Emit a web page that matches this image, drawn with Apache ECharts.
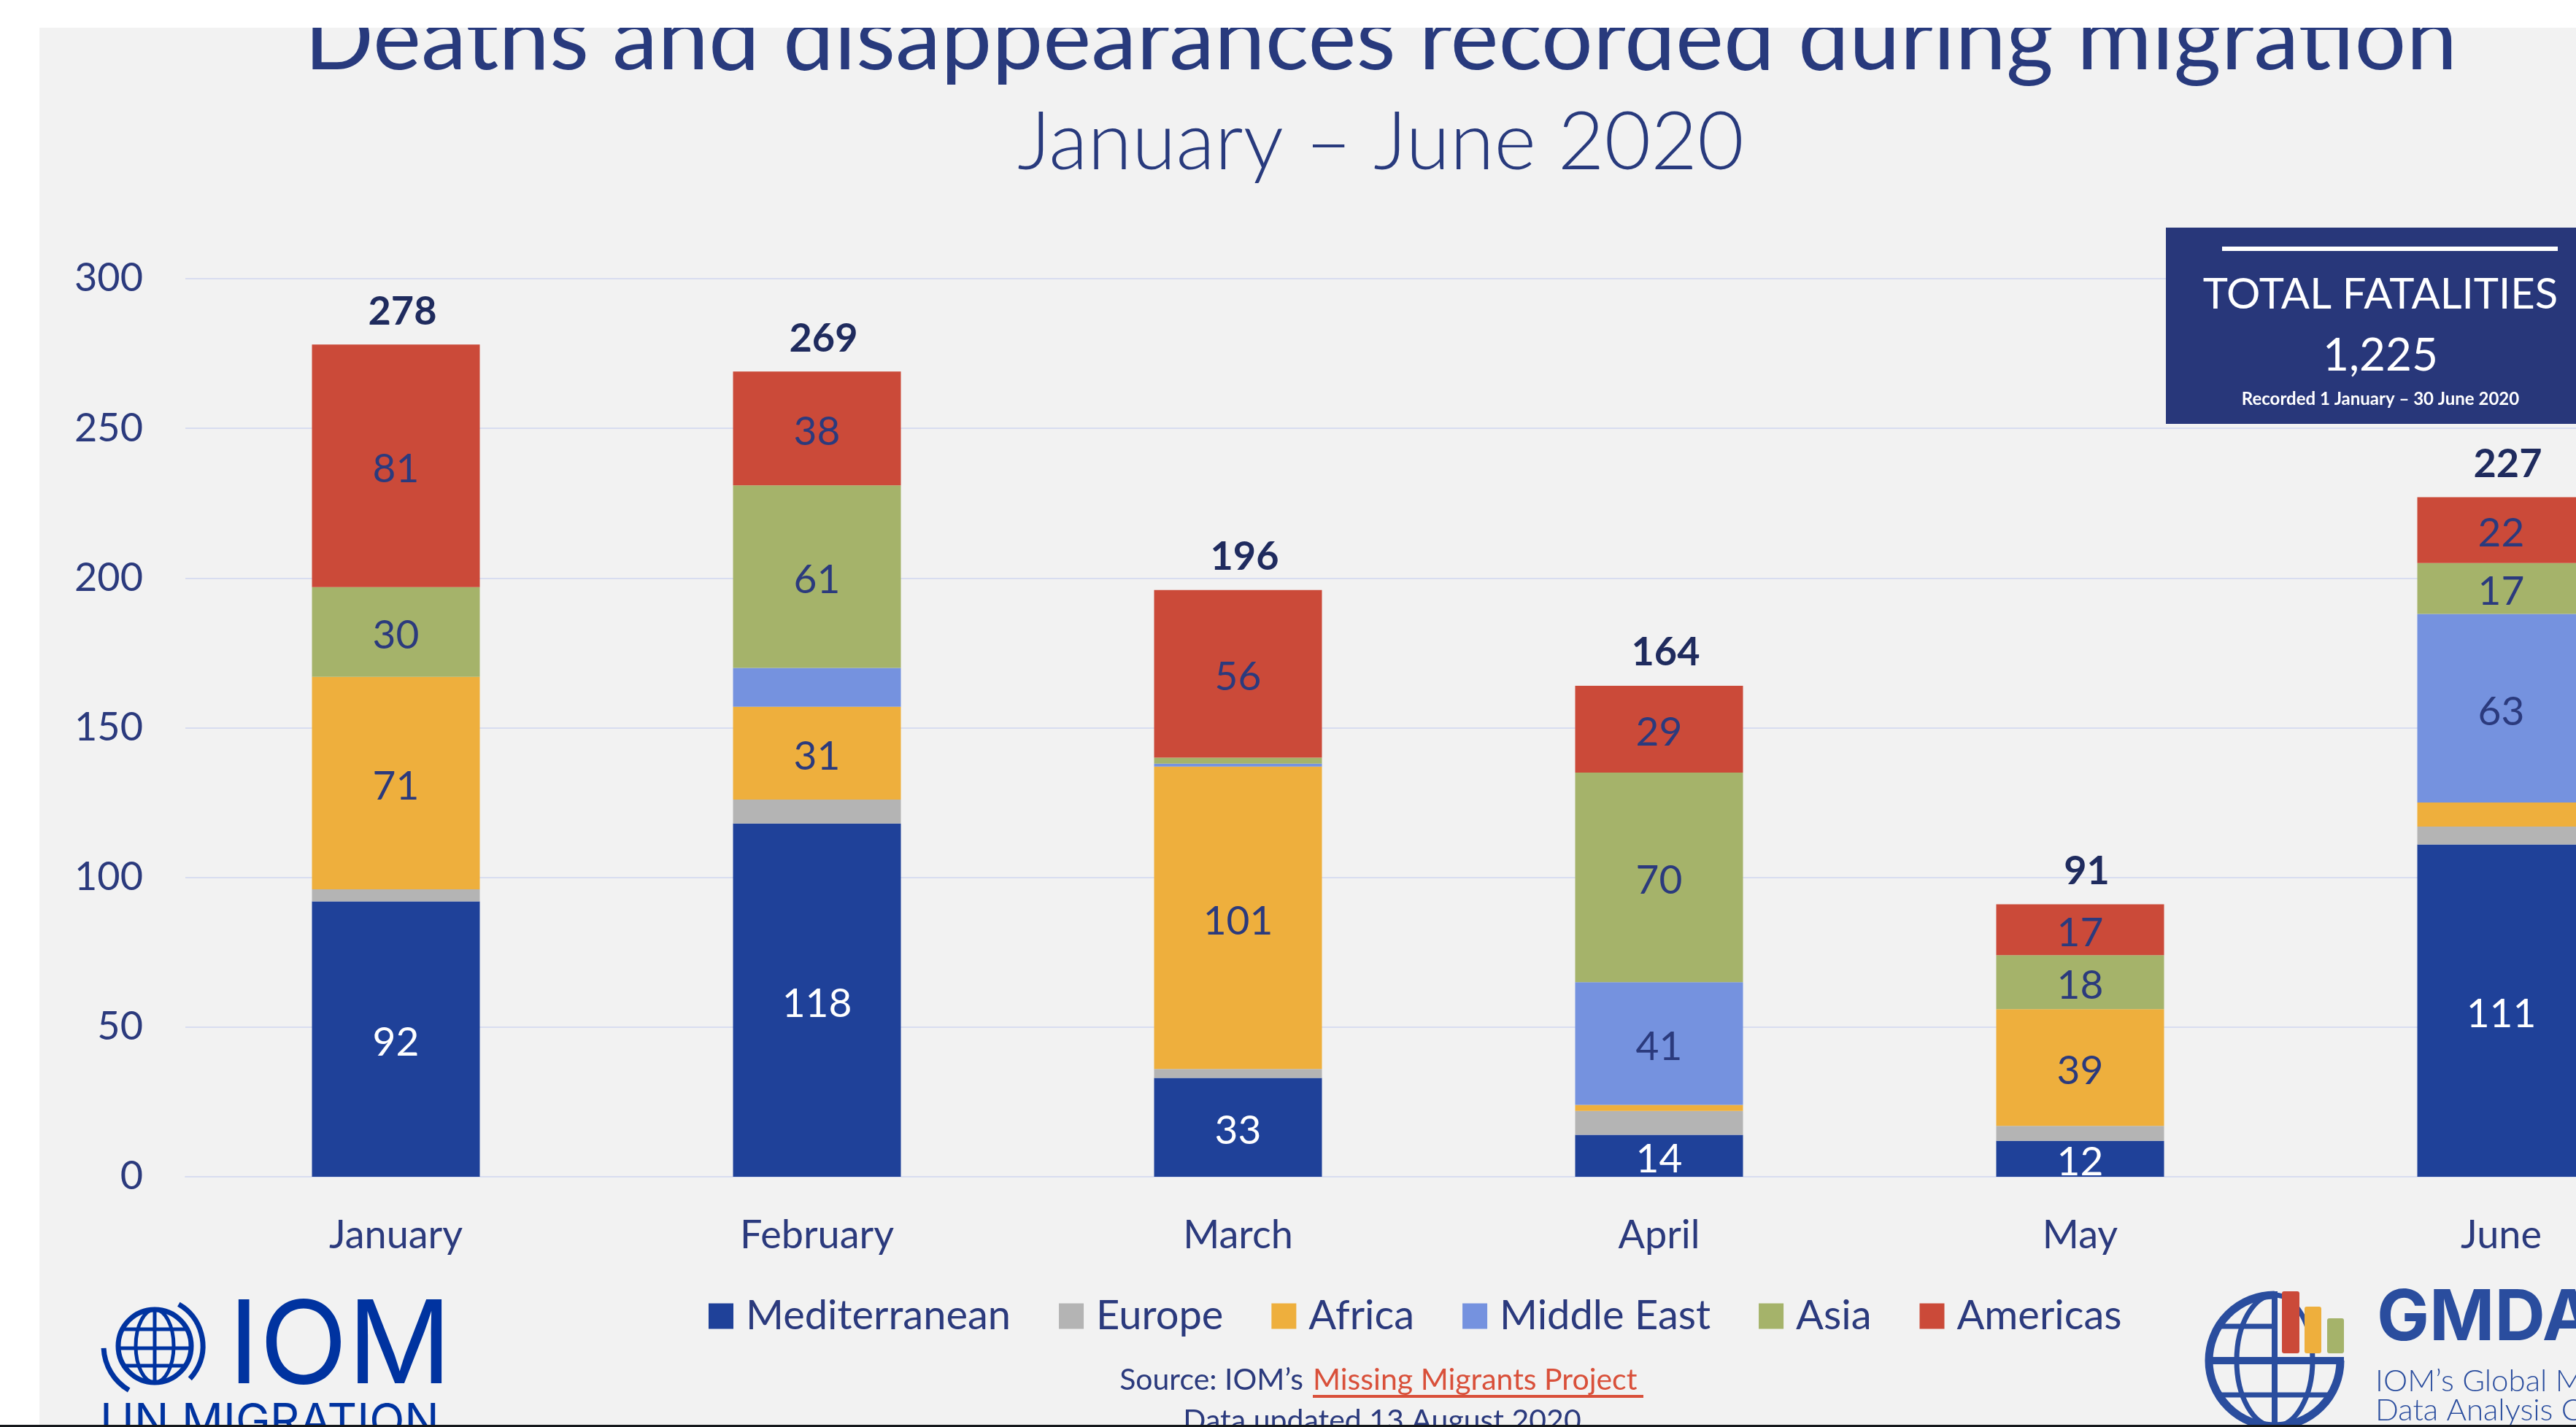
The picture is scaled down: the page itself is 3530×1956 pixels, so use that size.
<!DOCTYPE html>
<html>
<head>
<meta charset="utf-8">
<title>Deaths and disappearances recorded during migration</title>
<script src="https://cdn.jsdelivr.net/npm/echarts@6/dist/echarts.min.js"></script>
<style>
html, body { margin: 0; padding: 0; background: #fff; }
#chart { width: 3530px; height: 1956px; }
</style>
</head>
<body>
<div id="chart"></div>
<script>
// data
var months = ['January', 'February', 'March', 'April', 'May', 'June'];
var mediterranean = [92, 118, 33, 14, 12, 111];
var europe        = [4, 8, 3, 8, 5, 6];
var africa        = [71, 31, 101, 2, 39, 8];
var middleEast    = [0, 13, 1, 41, 0, 63];
var asia          = [30, 61, 2, 70, 18, 17];
var americas      = [81, 38, 56, 29, 17, 22];
var regionNames   = ['Mediterranean', 'Europe', 'Africa', 'Middle East', 'Asia', 'Americas'];
var yMin = 0, yMax = 300, yStep = 50;
var totalFatalities = '1,225';

var regionColors = ['#1F4199', '#B4B4B4', '#EEAF3D', '#7592DF', '#A5B36A', '#CB4A39'];
// smallest value that still gets a label inside its segment
var labelMin = [1, 999, 10, 20, 10, 1];

var regionData = [mediterranean, europe, africa, middleEast, asia, americas];
var totals = months.map(function (m, i) {
    return regionData.reduce(function (s, a) { return s + a[i]; }, 0);
});

var navy = '#2B3A7D';
var font = 'Lato';

var series = regionData.map(function (d, k) {
    return {
        name: regionNames[k], type: 'bar', stack: 'all', barWidth: 230,
        data: d, silent: true,
        itemStyle: { color: regionColors[k] },
        label: {
            show: true, position: 'inside', offset: [0, 5], fontFamily: font, fontSize: 55,
            color: k === 0 ? '#ffffff' : navy,
            formatter: function (p) { return p.value >= labelMin[k] ? p.value : ''; }
        }
    };
});
// empty bar on top of each stack, only to carry the total
series.push({
    name: 'Total', type: 'bar', stack: 'all', barWidth: 230, silent: true,
    data: months.map(function () { return 0; }),
    itemStyle: { color: 'transparent' },
    label: {
        show: true, position: 'top', distance: 18, offset: [9, 0], fontFamily: font,
        fontWeight: 'bold', fontSize: 54, color: '#1F2B5E',
        formatter: function (p) { return totals[p.dataIndex]; }
    }
});

function txt(x, y, s, size, color, opt) {
    opt = opt || {};
    return {
        type: 'text', x: x, y: y, z: opt.z || 10,
        style: {
            text: s, fontSize: size, fill: color,
            fontFamily: opt.family || font, fontWeight: opt.weight || 'normal',
            align: opt.align || 'center', verticalAlign: 'middle'
        }
    };
}

var iomBlue = '#0033A0', gmBlue = '#2A4D9E';

var graphic = [
    // titles
    txt(1892, 55, 'Deaths and disappearances recorded during migration', 125, '#283A7D'),
    txt(1892, 197, 'January \u2013 June 2020', 110, '#283A7D', { weight: 300 }),
    // page edges
    { type: 'rect', z: 100, shape: { x: 0, y: 0, width: 3530, height: 38 }, style: { fill: '#ffffff' } },
    { type: 'rect', z: 100, shape: { x: 0, y: 0, width: 54, height: 1956 }, style: { fill: '#ffffff' } },
    { type: 'rect', z: 101, shape: { x: 0, y: 1953, width: 3530, height: 3 }, style: { fill: '#15181c' } },
    // total box
    { type: 'rect', z: 20, shape: { x: 2968, y: 312, width: 600, height: 269 }, style: { fill: '#28377A' } },
    { type: 'rect', z: 21, shape: { x: 3045, y: 338, width: 460, height: 6 }, style: { fill: '#ffffff' } },
    txt(3262, 404, 'TOTAL FATALITIES', 58, '#ffffff', { z: 22 }),
    txt(3262, 488, totalFatalities, 62, '#ffffff', { z: 22 }),
    txt(3262, 547, 'Recorded 1 January \u2013 30 June 2020', 24, '#ffffff', { z: 22, weight: 'bold' }),
    // source
    txt(1786, 1892, 'Source: IOM\u2019s', 41, navy, { align: 'right' }),
    txt(1799, 1892, 'Missing Migrants Project', 41, '#D9503A', { align: 'left' }),
    { type: 'rect', z: 10, shape: { x: 1799, y: 1912, width: 453, height: 4 }, style: { fill: '#D9503A' } },
    txt(1894, 1948, 'Data updated 13 August 2020', 41, navy),
    // IOM logo
    { type: 'circle', z: 10, shape: { cx: 212, cy: 1845, r: 50 }, style: { fill: 'none', stroke: iomBlue, lineWidth: 7 } },
    { type: 'ellipse', z: 10, shape: { cx: 212, cy: 1845, rx: 26, ry: 50 }, style: { fill: 'none', stroke: iomBlue, lineWidth: 5 } },
    { type: 'line', z: 10, shape: { x1: 168, y1: 1822, x2: 256, y2: 1822 }, style: { stroke: iomBlue, lineWidth: 5 } },
    { type: 'line', z: 10, shape: { x1: 162, y1: 1848, x2: 262, y2: 1848 }, style: { stroke: iomBlue, lineWidth: 5 } },
    { type: 'line', z: 10, shape: { x1: 168, y1: 1872, x2: 256, y2: 1872 }, style: { stroke: iomBlue, lineWidth: 5 } },
    { type: 'line', z: 10, shape: { x1: 212, y1: 1795, x2: 212, y2: 1895 }, style: { stroke: iomBlue, lineWidth: 5 } },
    { type: 'arc', z: 10, shape: { cx: 212, cy: 1845, r: 66, startAngle: -1.05, endAngle: 0.75, clockwise: true }, style: { fill: 'none', stroke: iomBlue, lineWidth: 7 } },
    { type: 'arc', z: 10, shape: { cx: 212, cy: 1845, r: 70, startAngle: 2.1, endAngle: 3.1, clockwise: true }, style: { fill: 'none', stroke: iomBlue, lineWidth: 7 } },
    txt(313, 1848, 'IOM', 158, iomBlue, { align: 'left', family: 'Inter' }),
    txt(137, 1950, 'UN MIGRATION', 63, iomBlue, { align: 'left', family: 'Inter' }),
    // GMDAC logo
    { type: 'arc', z: 10, shape: { cx: 3117, cy: 1865, r: 90, startAngle: 0, endAngle: 4.71, clockwise: true }, style: { fill: 'none', stroke: gmBlue, lineWidth: 11 } },
    { type: 'ellipse', z: 10, shape: { cx: 3117, cy: 1865, rx: 52, ry: 90 }, style: { fill: 'none', stroke: gmBlue, lineWidth: 7 } },
    { type: 'line', z: 10, shape: { x1: 3027, y1: 1865, x2: 3212, y2: 1865 }, style: { stroke: gmBlue, lineWidth: 10 } },
    { type: 'line', z: 10, shape: { x1: 3040, y1: 1818, x2: 3117, y2: 1818 }, style: { stroke: gmBlue, lineWidth: 7 } },
    { type: 'line', z: 10, shape: { x1: 3040, y1: 1912, x2: 3194, y2: 1912 }, style: { stroke: gmBlue, lineWidth: 7 } },
    { type: 'line', z: 10, shape: { x1: 3117, y1: 1770, x2: 3117, y2: 1956 }, style: { stroke: gmBlue, lineWidth: 8 } },
    { type: 'rect', z: 11, shape: { x: 3127, y: 1770, width: 24, height: 85, r: 3 }, style: { fill: '#CB4A39' } },
    { type: 'rect', z: 11, shape: { x: 3158, y: 1791, width: 23, height: 64, r: 3 }, style: { fill: '#EEAF3D' } },
    { type: 'rect', z: 11, shape: { x: 3189, y: 1807, width: 23, height: 48, r: 3 }, style: { fill: '#A5B36A' } },
    txt(3257, 1808, 'GMDAC', 96, gmBlue, { align: 'left', family: 'Inter', weight: 'bold' }),
    txt(3255, 1893, 'IOM\u2019s Global Migration', 42, gmBlue, { align: 'left', weight: 300 }),
    txt(3255, 1933, 'Data Analysis Centre', 42, gmBlue, { align: 'left', weight: 300 })
];

var chart = echarts.init(document.getElementById('chart'));
chart.setOption({
    backgroundColor: '#F2F2F2',
    animation: false,
    textStyle: { fontFamily: font },
    grid: { left: 254, right: -186, top: 382, bottom: 343, containLabel: false, outerBoundsMode: 'none' },
    xAxis: {
        type: 'category', data: months,
        axisLine: { lineStyle: { color: '#D8DDF0', width: 2 } },
        axisTick: { show: false },
        axisLabel: { margin: 54, fontSize: 54, color: navy, fontFamily: font }
    },
    yAxis: {
        type: 'value', min: yMin, max: yMax, interval: yStep,
        axisLine: { show: false }, axisTick: { show: false },
        splitLine: { lineStyle: { color: '#D8DDF0', width: 2 } },
        axisLabel: { margin: 58, fontSize: 54, color: navy, fontFamily: font }
    },
    legend: {
        data: regionNames, left: 966, top: 1771, icon: 'rect',
        itemWidth: 34, itemHeight: 35, itemGap: 66, selectedMode: false,
        textStyle: { fontSize: 56, color: navy, fontFamily: font, padding: [0, 0, 0, 12] }
    },
    series: series,
    graphic: graphic
});
</script>
</body>
</html>
